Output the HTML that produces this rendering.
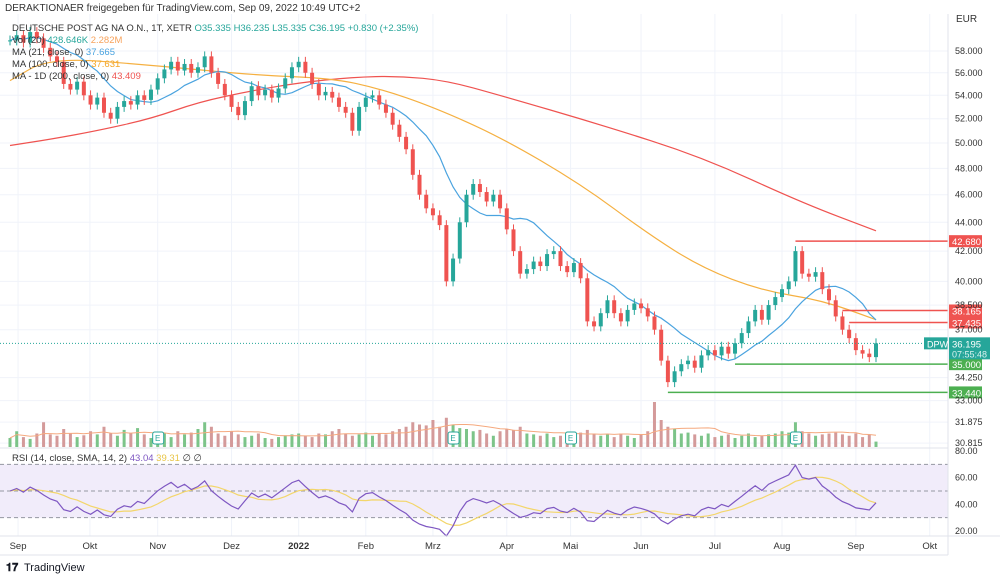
<!DOCTYPE html>
<html><head><meta charset="utf-8"><style>
body{margin:0;background:#fff;font-family:"Liberation Sans",sans-serif}
svg text{font-family:"Liberation Sans",sans-serif}
</style></head><body>
<svg id="c" width="1000" height="579" xmlns="http://www.w3.org/2000/svg">
<rect width="1000" height="579" fill="#fff"/>
<g id="grid"></g><g id="ma"></g><g id="vol"></g><g id="candles"></g><g id="levels"></g><g id="rsi"></g><g id="axes"></g>
<text x="5" y="11" font-size="10" fill="#333">DERAKTIONAER freigegeben für TradingView.com, Sep 09, 2022 10:49 UTC+2</text>
<g font-size="9.5">
<text x="12" y="31" fill="#333">DEUTSCHE POST AG NA O.N., 1T, XETR  <tspan fill="#26a69a">O35.335  H36.235  L35.335  C36.195  +0.830 (+2.35%)</tspan></text>
<text x="12" y="43" fill="#333">Vol (20) <tspan fill="#26a69a">428.646K</tspan> <tspan fill="#f7a35c">2.282M</tspan></text>
<text x="12" y="55" fill="#333">MA (21, close, 0) <tspan fill="#4aa3df">37.665</tspan></text>
<text x="12" y="67" fill="#333">MA (100, close, 0) <tspan fill="#f5a623">37.631</tspan></text>
<text x="12" y="79" fill="#333">MA - 1D (200, close, 0) <tspan fill="#ef5350">43.409</tspan></text>
</g>
<text x="12" y="461" font-size="9.5" fill="#333">RSI (14, close, SMA, 14, 2) <tspan fill="#7e57c2">43.04</tspan> <tspan fill="#e8c547">39.31</tspan> ∅ ∅</text>
<text x="956" y="22" font-size="10" fill="#333">EUR</text>
<g><text x="6" y="571" font-size="11" font-weight="bold" fill="#131722">𝟏𝟕</text><text x="24" y="571" font-size="11" fill="#131722">TradingView</text></g>
</svg>
<script>
const closes=[59.0,59.5,58.8,59.8,59.2,58.3,57.5,57.0,55.0,54.5,55.2,54.0,53.2,53.8,52.5,52.0,53.0,53.5,53.2,54.0,53.6,54.5,55.5,56.3,57.0,56.2,56.8,56.0,56.5,57.5,56.0,55.0,54.0,53.0,52.3,53.5,54.8,54.0,54.5,53.8,54.6,55.5,56.5,57.0,56.0,55.0,54.0,54.3,53.8,53.0,52.5,51.0,53.0,53.8,54.0,53.2,52.5,51.5,50.5,49.5,47.5,46.0,45.0,44.5,43.8,40.0,41.5,44.0,46.0,46.8,46.2,45.5,46.0,45.0,43.5,42.0,40.5,40.8,41.3,41.0,41.8,42.0,41.0,40.6,41.2,40.2,37.5,37.2,38.0,38.8,38.0,37.5,38.2,38.6,38.3,37.8,37.0,35.2,34.0,34.6,35.0,35.2,34.8,35.5,35.8,35.5,36.0,35.6,36.2,36.8,37.5,38.2,37.6,38.5,39.0,39.5,40.0,42.0,40.5,40.3,40.6,39.5,38.8,37.8,37.0,36.5,35.8,35.6,35.4,36.195];
const volumes=[20,35,22,18,30,55,28,25,40,30,22,26,35,28,45,30,25,38,30,42,28,20,25,30,22,35,28,32,40,55,45,30,25,35,28,22,25,30,20,18,22,26,28,30,25,22,30,28,35,40,30,25,28,32,25,30,28,35,40,45,55,50,48,60,45,65,50,42,40,35,38,30,25,35,40,38,45,30,28,25,30,22,25,28,30,32,38,30,25,28,22,30,25,20,28,35,100,60,45,40,30,32,28,25,30,22,25,28,20,25,30,22,25,28,30,35,32,55,35,30,25,28,30,32,28,25,30,22,28,12];
const ma100=[55.3,57.4,56.7,55.8,55.5,54.6,53.0,50.5,46.8,43.2,40.9,39.4,38.8,37.6];
const ma100Idx=[0,6,21,36,48,55,63,73,85,95,103,112,121,129];
const ma200=[49.8,50.3,51.0,52.0,53.4,54.4,55.1,55.6,55.7,55.3,54.0,51.5,48.9,45.4,43.4];
const ma200Idx=[0,6,13,21,28,36,43,51,58,65,73,88,103,118,129];
const priceTicks=[58,56,54,52,50,48,46,44,42,40,38.5,37,34.25,33,31.875,30.815];
const monthLabels=["Sep","Okt","Nov","Dez","2022","Feb","Mrz","Apr","Mai","Jun","Jul","Aug","Sep","Okt"];
const monthIdx=[1.2,11.9,22,33,43,53,63,74,83.5,94,105,115,126,137];
const levelValues=[42.68,38.165,37.435,35.0,33.44];
const levelStart=[117,124,125,108,98];
const levelColors=["#ef5350","#ef5350","#ef5350","#4caf50","#4caf50"];
const rsiTicks=[80,60,40,20];
const NS="http://www.w3.org/2000/svg";
const N=closes.length;
const X=i=>10+i*(866/(N-1));
const Y=p=>51+(Math.log(58)-Math.log(p))*620;
const RY=v=>531-(v-20)*(80/60);
const VY=v=>447-v*0.45;
function mk(tag,attrs,parent){const e=document.createElementNS(NS,tag);for(const k in attrs)e.setAttribute(k,attrs[k]);document.getElementById(parent).appendChild(e);return e;}
monthIdx.forEach((m,i)=>{const g=mk('line',{x1:X(m),x2:X(m),y1:14,y2:536,stroke:'#f0f3fa'},'grid');


const t=mk('text',{x:X(m),y:549,'font-size':9.5,'text-anchor':'middle',fill:'#333','font-weight':monthLabels[i]=='2022'?'bold':'normal'},'axes');t.textContent=monthLabels[i];

});
priceTicks.forEach(p=>{const g=mk('line',{x1:0,x2:948,y1:Y(p),y2:Y(p),stroke:'#f0f3fa'},'grid');


const t=mk('text',{x:955,y:Y(p)+3,'font-size':9,fill:'#333'},'axes');t.textContent=p.toFixed(3);

});
mk('line',{x1:948,x2:948,y1:14,y2:555,stroke:'#e0e3eb'},'axes');
mk('line',{x1:0,x2:948,y1:448,y2:448,stroke:'#e0e3eb'},'axes');
mk('line',{x1:0,x2:1000,y1:536,y2:536,stroke:'#e0e3eb'},'axes');
mk('line',{x1:0,x2:948,y1:555,y2:555,stroke:'#e0e3eb'},'axes');
function path(vals,idx){let d='M'+X(idx[0]).toFixed(1)+' '+Y(vals[0]).toFixed(1);
for(let i=1;i<vals.length;i++){const x0=X(idx[i-1]),y0=Y(vals[i-1]),x1=X(idx[i]),y1=Y(vals[i]);const mx=(x0+x1)/2;
d+=' Q'+x0.toFixed(1)+' '+y0.toFixed(1)+' '+mx.toFixed(1)+' '+((y0+y1)/2).toFixed(1);}
d+=' L'+X(idx[idx.length-1]).toFixed(1)+' '+Y(vals[vals.length-1]).toFixed(1);return d;}
let e=mk('path',{d:path(ma200,ma200Idx),fill:'none',stroke:'#ef5350','stroke-width':1.2},'ma');

e=mk('path',{d:path(ma100,ma100Idx),fill:'none',stroke:'#f5b041','stroke-width':1.2},'ma');

const ma21=closes.map((c,i)=>{const s=closes.slice(Math.max(0,i-10),i+1);return s.reduce((a,b)=>a+b,0)/s.length;});
e=mk('path',{d:ma21.map((v,i)=>(i?'L':'M')+X(i).toFixed(1)+' '+Y(v).toFixed(1)).join(' '),fill:'none',stroke:'#4aa3df','stroke-width':1.2},'ma');

const vma=volumes.map((v,i)=>{const s=volumes.slice(Math.max(0,i-9),i+1);return s.reduce((a,b)=>a+b,0)/s.length;});
closes.forEach((c,i)=>{const o=i?closes[i-1]:c;const up=c>=o;
const b=mk('rect',{x:X(i)-1.5,y:VY(volumes[i]),width:3,height:447-VY(volumes[i]),fill:up?'#7cc489':'#d49a9a'},'vol');

});
e=mk('path',{d:vma.map((v,i)=>(i?'L':'M')+X(i).toFixed(1)+' '+VY(v).toFixed(1)).join(' '),fill:'none',stroke:'#f5a97f','stroke-width':1},'vol');

[22,66,83.5,117].forEach(i=>{const g=mk('rect',{x:X(i)-5,y:432,width:11,height:12,fill:'#fff',stroke:'#26a69a',rx:2},'vol');


const t=mk('text',{x:X(i),y:441,'font-size':8,'text-anchor':'middle',fill:'#26a69a'},'vol');t.textContent='E';});
closes.forEach((c,i)=>{const o=i?closes[i-1]:c;const up=c>=o;const col=up?'#26a69a':'#ef5350';
const hi=Math.max(o,c)*1.008,lo=Math.min(o,c)*0.992;
const w=mk('line',{x1:X(i),x2:X(i),y1:Y(hi),y2:Y(lo),stroke:col},'candles');


const b=mk('rect',{x:X(i)-2,y:Math.min(Y(o),Y(c)),width:4,height:Math.max(1,Math.abs(Y(o)-Y(c))),fill:col},'candles');

});
levelValues.forEach((v,k)=>{const y=Y(v);
const l=mk('line',{x1:X(levelStart[k]),x2:948,y1:y,y2:y,stroke:levelColors[k],'stroke-width':1.5},'levels');


const r=mk('rect',{x:949,y:y-6,width:33,height:12,fill:levelColors[k]},'levels');


const t=mk('text',{x:952,y:y+4,'font-size':9.5,fill:'#fff'},'levels');t.textContent=v.toFixed(3);});
const lp=closes[N-1],ly=Y(lp);
mk('line',{x1:0,x2:924,y1:ly,y2:ly,stroke:'#26a69a','stroke-dasharray':'1 2'},'levels');
e=mk('rect',{x:924,y:ly-6,width:24,height:12,fill:'#26a69a'},'levels');

let t=mk('text',{x:927,y:ly+4,'font-size':9,fill:'#fff'},'levels');t.textContent='DPW';
e=mk('rect',{x:949,y:ly-6,width:41,height:22,fill:'#26a69a'},'levels');

t=mk('text',{x:952,y:ly+4,'font-size':9.5,fill:'#fff'},'levels');t.textContent=lp.toFixed(3);
t=mk('text',{x:952,y:ly+14,'font-size':9,fill:'#d9f2ef'},'levels');t.textContent='07:55:48';
e=mk('rect',{x:0,y:RY(70),width:948,height:RY(30)-RY(70),fill:'#f1ecfa'},'rsi');

[70,50,30].forEach(v=>mk('line',{x1:0,x2:948,y1:RY(v),y2:RY(v),stroke:'#9598a1','stroke-dasharray':'4 3'},'rsi'));
rsiTicks.forEach(v=>{const t=mk('text',{x:955,y:RY(v)+3,'font-size':9,fill:'#333'},'rsi');t.textContent=v.toFixed(2);});
let ag=0.5,al=0.5;const rsi=[];
closes.forEach((c,i)=>{if(i===0){rsi.push(50);return;}const d=c-closes[i-1];const g=Math.max(d,0),l=Math.max(-d,0);
const n=14;ag=(ag*(n-1)+g)/n;al=(al*(n-1)+l)/n;rsi.push(100-100/(1+ag/al));});
const rsiMa=rsi.map((v,i)=>{const s=rsi.slice(Math.max(0,i-7),i+1);return s.reduce((a,b)=>a+b,0)/s.length;});
e=mk('path',{d:rsiMa.map((v,i)=>(i?'L':'M')+X(i).toFixed(1)+' '+RY(v).toFixed(1)).join(' '),fill:'none',stroke:'#f3d66b','stroke-width':1.2},'rsi');

e=mk('path',{d:rsi.map((v,i)=>(i?'L':'M')+X(i).toFixed(1)+' '+RY(v).toFixed(1)).join(' '),fill:'none',stroke:'#7e57c2','stroke-width':1.2},'rsi');

</script>
</body></html>
